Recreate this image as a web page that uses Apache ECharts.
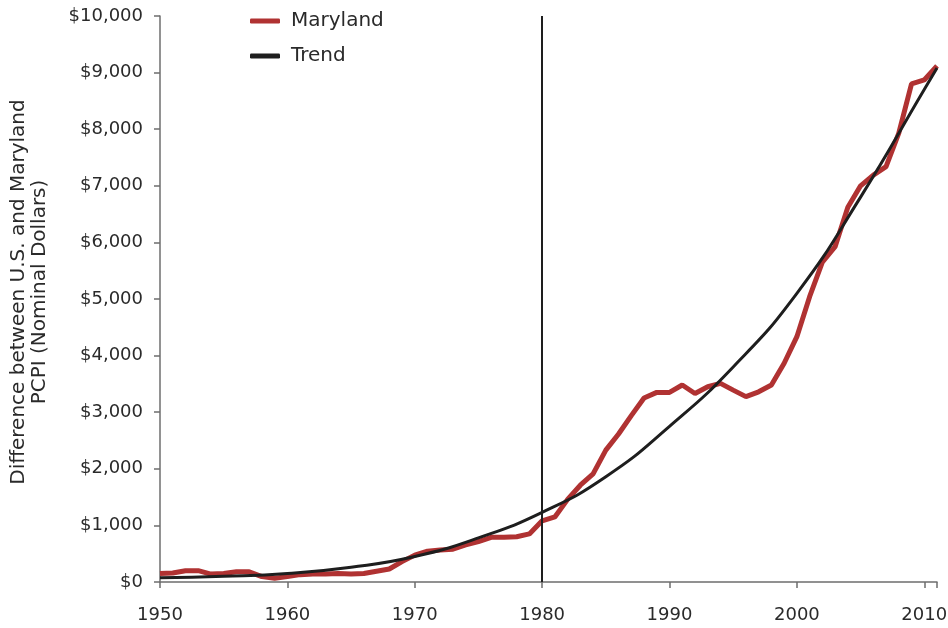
<!DOCTYPE html>
<html lang="en">
<head>
<meta charset="UTF-8">
<title>Maryland PCPI difference</title>
<script src="https://cdn.jsdelivr.net/npm/echarts@6/dist/echarts.min.js"></script>
</head>
<body style="margin:0">
<div id="chart" style="width:948px;height:628px"></div>
<script>
// data
let years = [];
for (let y = 1950; y <= 2011; y++) years.push(y);

let maryland = [150, 160, 200, 200, 140, 150, 180, 180, 95, 65,
                95, 130, 140, 140, 150, 140, 150, 190, 230, 360,
                475, 545, 565, 580, 655, 715, 790, 790, 800, 850,
                1080, 1150, 1460, 1710, 1910, 2330, 2615, 2940, 3250, 3350,
                3350, 3480, 3330, 3450, 3510, 3390, 3275, 3360, 3480, 3865,
                4335, 5040, 5650, 5925, 6620, 7000, 7190, 7340, 7930, 8800,
                8870, 9120];

let trendYears = [1950, 1955, 1960, 1965, 1970, 1975, 1980, 1985, 1990, 1995, 2000, 2005, 2010, 2011];
let trend = [75, 100, 150, 260, 450, 780, 1230, 1860, 2750, 3800, 5100, 6800, 8700, 9080];

let marker_year = 1980;

let chart = echarts.init(document.getElementById('chart'));
let font = 'DejaVu Sans, sans-serif';
let textColor = '#2a2a2a';
let axisColor = '#6e6e6e';

chart.setOption({
    animation: false,
    textStyle: {fontFamily: font},
    grid: {left: 160, right: 11, top: 16, bottom: 46, containLabel: false, outerBoundsMode: 'none'},
    legend: {
        orient: 'vertical',
        left: 250,
        top: 11,
        itemGap: 15,
        itemWidth: 30,
        itemHeight: 5,
        padding: 0,
        icon: 'roundRect',
        textStyle: {fontSize: 20, color: textColor, fontFamily: font, padding: [0, 0, 0, 6]},
        data: ['Maryland', 'Trend']
    },
    xAxis: {
        type: 'value',
        min: 1950,
        max: 2011,
        interval: 10,
        axisLine: {lineStyle: {color: axisColor, width: 1.5}},
        axisTick: {show: true, length: 6, lineStyle: {color: axisColor, width: 1.5}},
        axisLabel: {fontSize: 18, color: textColor, margin: 24,
            formatter: function (v) { return v % 10 === 0 ? String(v) : ''; }},
        splitLine: {show: false}
    },
    yAxis: {
        type: 'value',
        min: 0,
        max: 10000,
        interval: 1000,
        name: 'Difference between U.S. and Maryland\nPCPI (Nominal Dollars)',
        nameLocation: 'middle',
        nameGap: 110,
        nameTextStyle: {fontSize: 20, color: textColor, lineHeight: 21, padding: [0, 0, 0, 14]},
        axisLine: {show: true, lineStyle: {color: axisColor, width: 1.5}},
        axisTick: {show: true, length: 6, lineStyle: {color: axisColor, width: 1.5}},
        axisLabel: {fontSize: 18, color: textColor, margin: 17,
            formatter: function (v) { return '$' + v.toLocaleString('en-US'); }},
        splitLine: {show: false}
    },
    series: [
        {
            name: 'Maryland',
            type: 'line',
            symbol: 'none',
            data: years.map(function (y, i) { return [y, maryland[i]]; }),
            lineStyle: {color: '#b03232', width: 5},
            itemStyle: {color: '#b03232'},
            z: 2
        },
        {
            name: 'Trend',
            type: 'line',
            symbol: 'none',
            smooth: true,
            data: trendYears.map(function (y, i) { return [y, trend[i]]; }),
            lineStyle: {color: '#1e1e1e', width: 3},
            itemStyle: {color: '#1e1e1e'},
            z: 3,
            markLine: {
                silent: true,
                symbol: ['none', 'none'],
                label: {show: false},
                lineStyle: {color: '#1e1e1e', width: 2, type: 'solid'},
                data: [{xAxis: marker_year}]
            }
        }
    ]
});
</script>
</body>
</html>
